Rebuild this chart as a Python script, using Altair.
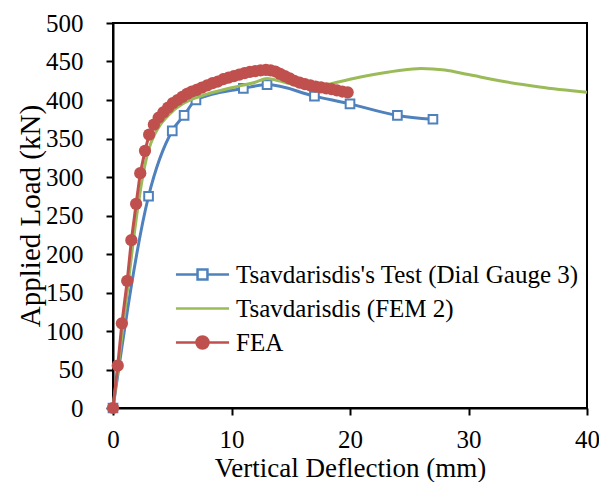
import altair as alt
import pandas as pd

series_names = ["Tsavdarisdis's Test (Dial Gauge 3)", "Tsavdarisdis (FEM 2)", "FEA"]
colors = ["#4F81BD", "#9BBB59", "#C0504D"]

test_x = [0, 3, 5, 6, 7, 11, 13, 17, 20, 24, 27]
test_y = [0, 275, 360, 380, 400, 415, 420, 405, 395, 380, 375]

fem_x = [0, 1, 2, 2.5, 3, 3.5, 4, 5, 6, 8, 10, 12, 13, 14, 15, 16, 17, 18, 20, 22, 24, 26, 28, 30, 33, 36, 40]
fem_y = [0, 125, 250, 300, 335, 355, 368, 385, 396, 408, 416, 423, 428, 425, 421, 418.5, 418, 420, 427, 433, 438, 441, 439, 433, 424, 417, 410]

fea_x = [0, 0.4, 0.75, 1.2, 1.55, 1.95, 2.3, 2.7, 3.05, 3.45, 3.85, 4.25, 4.65, 5.05, 5.45, 5.85,
         6.25, 6.65, 7.05, 7.5, 7.95, 8.4, 8.85, 9.3, 9.75, 10.2, 10.65, 11.1, 11.55, 12.0, 12.45,
         12.9, 13.3, 13.7, 14.1, 14.5, 14.9, 15.3, 15.75, 16.2, 16.65, 17.1, 17.55, 18.0, 18.45,
         18.9, 19.35, 19.8]
fea_y = [0, 55, 110, 165, 218, 265, 305, 334, 355, 368, 377, 384, 390, 396, 400, 404,
         408, 411, 413, 416, 419, 422, 424, 427, 429, 431, 433, 435, 436.5, 437.5, 438.5,
         439, 438.5, 437, 434, 431, 428, 425, 422.5, 420.5, 419, 417.5, 416.5, 415, 414,
         412.5, 411, 410]

x_ticks = [0, 10, 20, 30, 40]
y_ticks = [0, 50, 100, 150, 200, 250, 300, 350, 400, 450, 500]

test_df = pd.DataFrame({"x": test_x, "y": test_y, "series": series_names[0]})
fem_df = pd.DataFrame({"x": fem_x, "y": fem_y, "series": series_names[1]})
fea_df = pd.DataFrame({"x": fea_x, "y": fea_y, "series": series_names[2]})
all_df = pd.concat([test_df, fem_df, fea_df], ignore_index=True)

FONT = "Liberation Serif"

xenc = alt.X("x:Q", scale=alt.Scale(domain=[0, 40], nice=False),
             axis=alt.Axis(values=x_ticks, title="Vertical Deflection (mm)", grid=False,
                           tickSize=7, tickWidth=2, tickColor="black", domainColor="black",
                           domainWidth=2, labelFontSize=25, labelFont=FONT, labelColor="black",
                           labelPadding=12, titleFont=FONT, titleFontSize=27,
                           titleFontWeight="normal", titleColor="black", titlePadding=3,
                           labelFlush=False))
yenc = alt.Y("y:Q", scale=alt.Scale(domain=[0, 500], nice=False),
             axis=alt.Axis(values=y_ticks, title="Applied Load (kN)", grid=False,
                           tickSize=7, tickWidth=2, tickColor="black", domainColor="black",
                           domainWidth=2, labelFontSize=25, labelFont=FONT, labelColor="black",
                           labelPadding=23, titleFont=FONT, titleFontSize=29,
                           titleFontWeight="normal", titleColor="black", titlePadding=0,
                           labelFlush=False))

blue_line = alt.Chart(test_df).mark_line(color=colors[0], strokeWidth=3,
                                         interpolate="monotone", clip=False).encode(x=xenc, y=yenc)
blue_pts = alt.Chart(test_df).mark_point(shape="square", filled=True, fill="white",
                                         stroke=colors[0], strokeWidth=2, size=75,
                                         opacity=1, clip=False).encode(x=xenc, y=yenc)
green_line = alt.Chart(fem_df).mark_line(color=colors[1], strokeWidth=3,
                                         interpolate="monotone").encode(x=xenc, y=yenc)
red_line = alt.Chart(fea_df).mark_line(color=colors[2], strokeWidth=3).encode(x=xenc, y=yenc)
red_pts = alt.Chart(fea_df).mark_circle(color=colors[2], size=150, opacity=1,
                                        clip=False).encode(x=xenc, y=yenc)

shape_paths = [
    "M-1.77,0H-0.33M0.33,0H1.77M-0.33,-0.33H0.33V0.33H-0.33Z",
    "M-1.77,0H1.77",
    "M-1.77,0H1.77M0.4,0A0.4,0.4,0,1,1,-0.4,0A0.4,0.4,0,1,1,0.4,0Z",
]

legend = alt.Legend(title=None, orient="none", legendX=73, legendY=235, padding=0,
                    symbolSize=900, symbolStrokeWidth=2.5, symbolOpacity=1,
                    labelFont=FONT, labelFontSize=25, labelColor="black",
                    labelOffset=17, rowPadding=4, labelLimit=500)

legend_layer = alt.Chart(all_df).mark_point(filled=False).encode(
    x=xenc, y=yenc,
    shape=alt.Shape("series:N", scale=alt.Scale(domain=series_names, range=shape_paths), legend=legend),
    stroke=alt.Stroke("series:N", scale=alt.Scale(domain=series_names, range=colors), legend=legend),
    fill=alt.Fill("series:N", scale=alt.Scale(domain=series_names, range=["white", "transparent", colors[2]]), legend=legend),
).transform_filter("false")

chart = alt.layer(blue_line, blue_pts, green_line, red_line, red_pts, legend_layer).properties(
    width=474, height=385,
    autosize=alt.AutoSizeParams(type="none"),
    padding={"left": 105, "top": 15, "right": 12, "bottom": 74},
    background="white",
).configure_view(stroke="black", strokeWidth=2)

chart.save("out.html", embed_options={"renderer": "svg", "actions": False})
